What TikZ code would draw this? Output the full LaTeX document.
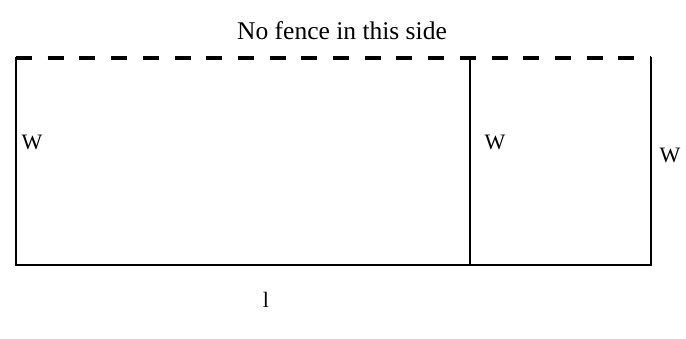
\documentclass[tikz,border=0pt]{standalone}
\usepackage{fontspec}
\setmainfont{Liberation Serif}
\begin{document}
\begin{tikzpicture}[x=1pt,y=-1pt,
  fence/.style={line width=2.6pt,line cap=rect},
  nofence/.style={line width=3.2pt,dash pattern=on 16pt off 15.7pt},
  lbl/.style={font=\fontsize{22}{26}\selectfont,inner sep=0pt,anchor=base},
  ttl/.style={font=\fontsize{25.5}{30}\selectfont,inner sep=0pt,anchor=base}]
\useasboundingbox (0,0) rectangle (686,339);
\coordinate (tl) at (16,58);
\coordinate (tm) at (470,58);
\coordinate (tr) at (651,58);
\coordinate (bl) at (16,265);
\coordinate (bm) at (470,265);
\coordinate (br) at (651,265);
\draw[nofence] (tl) -- (tr);
\draw[fence] (tl) -- (bl) -- (br) -- (tr);
\draw[fence] (tm) -- (bm);
\node[ttl] (title) at (342,40) {No fence in this side};
\node[lbl] (w1) at (32,150) {W};
\node[lbl] (w2) at (495,150) {W};
\node[lbl] (w3) at (670,163) {W};
\node[lbl] (len) at (266,308) {l};
\end{tikzpicture}
\end{document}
